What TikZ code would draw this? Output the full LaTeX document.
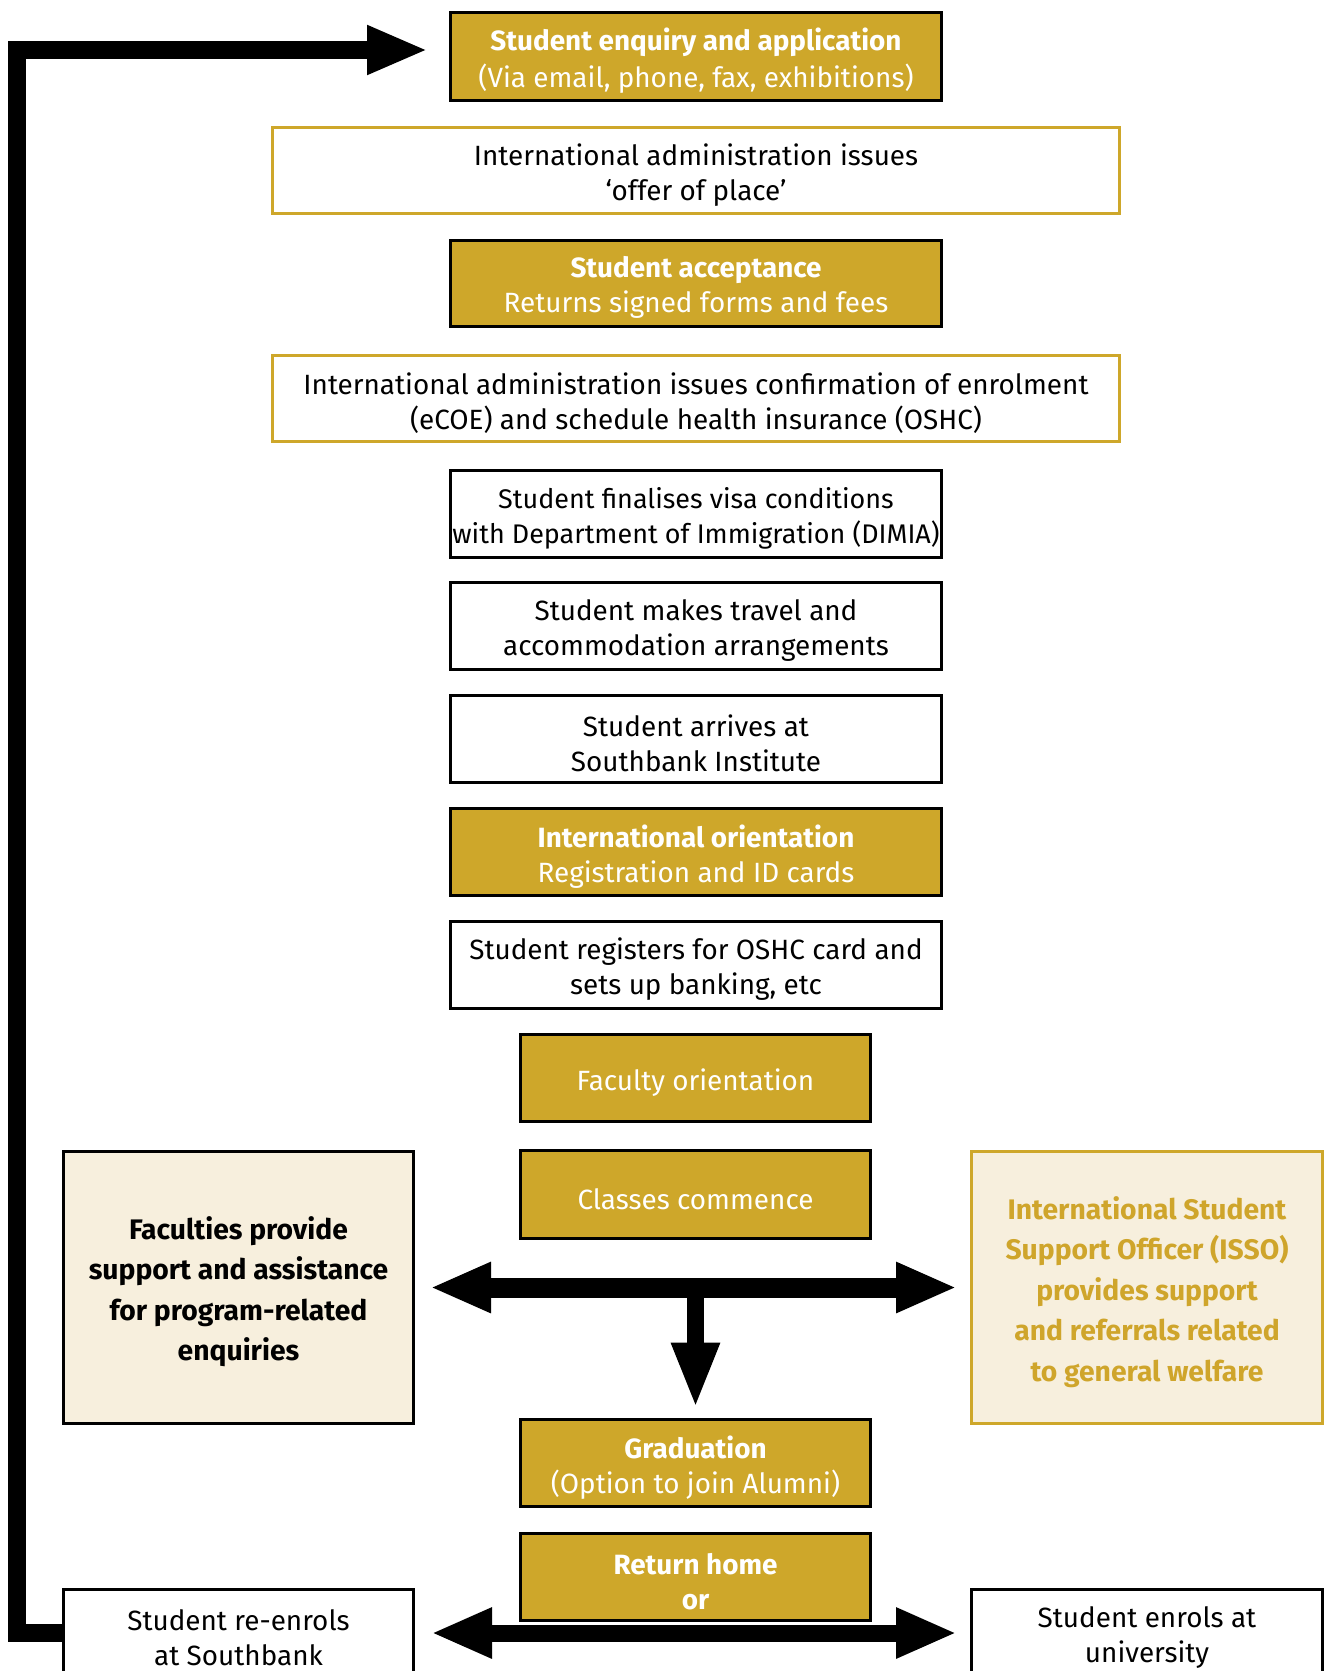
\documentclass[tikz,border=0pt]{standalone}
\usepackage{fontspec}
\setmainfont{Fira Sans}
\usetikzlibrary{arrows.meta}
\definecolor{gold}{RGB}{206,167,42}
\definecolor{cream}{RGB}{247,239,221}
\definecolor{goldtext}{RGB}{207,165,43}
\begin{document}
\begin{tikzpicture}[x=0.75pt,y=-0.75pt,
  every node/.style={align=center, inner sep=0pt},
  sz/.style 2 args={minimum width=#1*0.75pt, minimum height=#2*0.75pt},
  txt/.style={font=\fontsize{20.9}{26.25}\selectfont},
  sidetxt/.style={font=\fontsize{21.2}{30.4}\selectfont\bfseries},
  goldbox/.style={draw=black, fill=gold, line width=2.25pt},
  whitebox/.style={draw=black, fill=white, line width=2.25pt},
  goldline/.style={draw=gold, fill=white, line width=2.25pt},
  sidebox/.style={fill=cream, line width=2.25pt},
  loop/.style={line width=13.5pt, line join=miter, -{Triangle[length=45.75pt,width=34pt]}},
  dbl/.style={line width=#1, {Triangle[length=45.75pt,width=35pt]}-{Triangle[length=45.75pt,width=35pt]}},
  down/.style={line width=12.75pt, -{Triangle[length=49.5pt,width=33pt]}}
]
\path[use as bounding box] (0,0) rectangle (1325,1671);

% boxes
\node[goldbox, sz={491}{88}] (b1) at (696,56) {};
\node[goldline, sz={847}{86}] (b2) at (696,170.5) {};
\node[goldbox, sz={491}{86}] (b3) at (696,283) {};
\node[goldline, sz={847}{86}] (b4) at (696,398.5) {};
\node[whitebox, sz={491}{87}] (b5) at (696,514) {};
\node[whitebox, sz={491}{87}] (b6) at (696,626) {};
\node[whitebox, sz={491}{87}] (b7) at (696,739) {};
\node[goldbox, sz={491}{87}] (b8) at (696,852) {};
\node[whitebox, sz={491}{87}] (b9) at (696,965) {};
\node[goldbox, sz={350}{87}] (b10) at (695.5,1078) {};
\node[goldbox, sz={350}{88}] (b11) at (695.5,1194.5) {};
\node[sidebox, draw=black, sz={350}{272}] (fac) at (238.5,1287.5) {};
\node[sidebox, draw=gold, sz={351}{272}] (isso) at (1147,1287.5) {};
\node[goldbox, sz={350}{87}] (grad) at (695.5,1463) {};
\node[goldbox, sz={350}{87}] (ret) at (695.5,1577) {};
\node[whitebox, sz={350}{88}] (reen) at (238.5,1633) {};
\node[whitebox, sz={351}{88}] (univ) at (1147,1633) {};

% texts
\node[txt, text=white] (t1) at ([yshift=-3.2pt]b1.center) {\textbf{Student enquiry and application}\\[1.5pt](Via email, phone, fax, exhibitions)};
\node[txt] (t2) at ([yshift=-3.2pt]b2.center) {International administration issues\\‘offer of place’};
\node[txt, text=white] (t3) at ([yshift=-3.2pt]b3.center) {\textbf{Student acceptance}\\Returns signed forms and fees};
\node[txt] (t4) at ([yshift=-3.2pt]b4.center) {International administration issues confirmation of enrolment\\(eCOE) and schedule health insurance (OSHC)};
\node[txt, font=\fontsize{20.2}{26.25}\selectfont] (t5) at ([yshift=-3.2pt]b5.center) {Student finalises visa conditions\\with Department of Immigration (DIMIA)};
\node[txt] (t6) at ([yshift=-3.2pt]b6.center) {Student makes travel and\\accommodation arrangements};
\node[txt] (t7) at ([yshift=-3.2pt]b7.center) {Student arrives at\\Southbank Institute};
\node[txt, text=white] (t8) at ([yshift=-3.2pt]b8.center) {\textbf{International orientation}\\Registration and ID cards};
\node[txt] (t9) at ([yshift=-3.2pt]b9.center) {Student registers for OSHC card and\\sets up banking, etc};
\node[txt, text=white] (t10) at ([yshift=-3.2pt]b10.center) {Faculty orientation};
\node[txt, text=white] (t11) at ([yshift=-3.2pt]b11.center) {Classes commence};
\node[sidetxt] (tfac) at ([yshift=-3.2pt]fac.center) {Faculties provide\\support and assistance\\for program-related\\enquiries};
\node[sidetxt, text=goldtext] (tisso) at ([yshift=-3.2pt]isso.center) {International Student\\Support Officer (ISSO)\\provides support\\and referrals related\\to general welfare};
\node[txt, text=white] (tgrad) at ([yshift=-3.2pt]grad.center) {\textbf{Graduation}\\(Option to join Alumni)};
\node[txt, text=white] (tret) at ([yshift=-3.2pt]ret.center) {\textbf{Return home}\\\textbf{or}};
\node[txt] (treen) at ([yshift=-3.2pt]reen.center) {Student re-enrols\\at Southbank};
\node[txt] (tuniv) at ([yshift=-3.2pt]univ.center) {Student enrols at\\university};

% connectors
\coordinate (loopend) at (428,50);
\draw[loop] (reen.west) -- ++(-45,0) |- (loopend);

\draw[dbl=15pt, shorten <=11.25pt, shorten >=9.75pt] (fac.east) -- (isso.west);
\coordinate (mid) at (fac.east -| grad.north);
\draw[down, shorten >=7pt] (mid) -- (grad.north);

\draw[dbl=12.75pt, shorten <=12pt, shorten >=9.75pt] (reen.east) -- (univ.west);
\end{tikzpicture}
\end{document}
